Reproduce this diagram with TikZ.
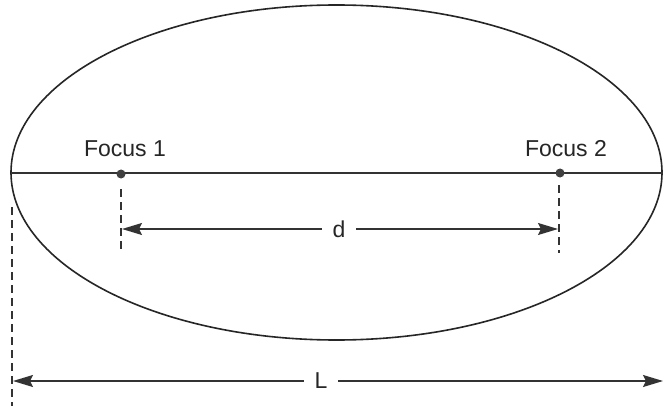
\documentclass[tikz,border=0pt]{standalone}
\usepackage{fontspec}
\setmainfont{Liberation Sans}
\usetikzlibrary{arrows.meta}
\begin{document}
\begin{tikzpicture}[x=1pt,y=-1pt,
  curve/.style={line width=1.6pt,draw=black!85},
  axisline/.style={line width=1.3pt,draw=black!80},
  guide/.style={line width=1.5pt,draw=black!80,dash pattern=on 8pt off 5pt},
  dimarrow/.style={line width=1.5pt,draw=black!80,{Stealth[length=20pt,width=12pt,inset=3pt]}-{Stealth[length=20pt,width=12pt,inset=3pt]}},
  focusdot/.style={circle,fill=black!75,inner sep=0pt,minimum size=9pt},
  lbl/.style={font=\fontsize{23}{25}\selectfont,text=black!85,inner sep=0pt},
  gaplbl/.style={lbl,fill=white,inner xsep=11pt,inner ysep=2pt}]
\useasboundingbox (0,0) rectangle (663,406);
\fill[white] (0,0) rectangle (663,406);
% ellipse and major axis
\draw[curve] (336.5,172.5) ellipse [x radius=325.5, y radius=167.5];
\coordinate (axL) at (11,173);
\coordinate (axR) at (663,173);
\draw[axisline] (axL) -- (axR);
% foci
\node[focusdot] (f1) at (121,174) {};
\node[focusdot] (f2) at (560,173) {};
\node[lbl] (t1) at (125,149) {Focus 1};
\node[lbl] (t2) at (566,149) {Focus 2};
% dashed guides
\coordinate (g1a) at (121,189);
\coordinate (g1b) at (121,251);
\coordinate (g2a) at (559,185);
\coordinate (g2b) at (559,253);
\coordinate (gLa) at (12,207);
\coordinate (gLb) at (12,406);
\draw[guide] (g1a) -- (g1b);
\draw[guide] (g2a) -- (g2b);
\draw[guide] (gLa) -- (gLb);
% dimension d
\coordinate (d1) at (122,229);
\coordinate (d2) at (558,229);
\draw[dimarrow] (d1) -- (d2);
\node[gaplbl] (dl) at (339,229) {d};
% dimension L
\coordinate (L1) at (13,381);
\coordinate (L2) at (663,381);
\draw[dimarrow] (L1) -- (L2);
\node[gaplbl] (Ll) at (321,381) {L};
\end{tikzpicture}
\end{document}
